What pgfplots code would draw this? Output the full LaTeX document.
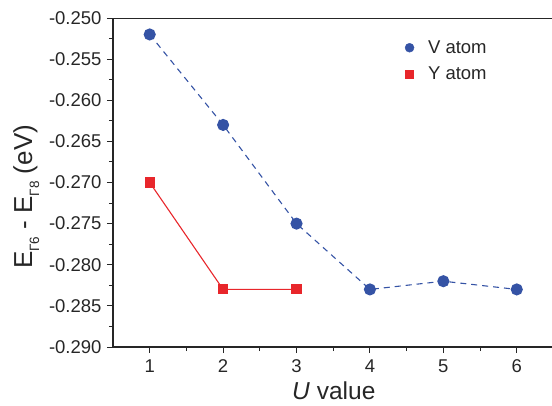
\documentclass[border=0pt]{standalone}
\usepackage{pgfplots}
\pgfplotsset{compat=1.18}
\usepackage{fontspec}
\setmainfont{Liberation Sans}
\definecolor{vblue}{HTML}{3553A5}
\definecolor{yred}{HTML}{E8262B}
\newcommand{\sub}[1]{\raisebox{-7pt}{\fontsize{13.5}{14}\selectfont #1}}
\begin{document}
\begin{tikzpicture}
\useasboundingbox (-113pt,-58pt) rectangle (439pt,347pt);
\begin{axis}[
  at={(0,0)}, anchor=south west,
  scale only axis, width=439pt, height=329pt,
  xmin=0.5, xmax=6.48, ymin=-0.290, ymax=-0.250,
  axis x line*=bottom, axis y line*=left,
  axis line style={line width=1.1pt, color=black!85, -},
  xtick={1,2,3,4,5,6},
  ytick={-0.290,-0.285,...,-0.249},
  minor x tick num=1, minor y tick num=1,
  tick align=outside,
  major tick length=6pt, minor tick length=4pt,
  tick style={line width=1pt, color=black!85},
  /pgf/number format/assume math mode=true,
  yticklabel={\pgfmathprintnumber[fixed,fixed zerofill,precision=3]{\tick}},
  scaled y ticks=false,
  tick label style={font=\fontsize{18.5}{20}\selectfont, color=black!85},
  xticklabel style={yshift=-3pt},
  yticklabel style={xshift=-2pt},
  xlabel={\textit{U} value},
  ylabel={E\sub{Γ6} - E\sub{Γ8} (eV)},
  every axis x label/.style={at={(axis description cs:0.503,-0.161)}, anchor=base, font=\fontsize{24.5}{28}\selectfont, color=black!85},
  every axis y label/.style={at={(axis description cs:-0.1845,0.456)}, anchor=base, rotate=90, font=\fontsize{26}{30}\selectfont, color=black!85},
  legend style={draw=none, fill=none, at={(axis description cs:0.658,0.944)}, anchor=north west,
    font=\fontsize{18.5}{20}\selectfont, row sep=8pt, text=black!85,
    /tikz/every odd column/.append style={column sep=12pt}},
  legend cell align=left,
]
\draw[line width=1.1pt, color=black!85] (rel axis cs:0,1) -- (rel axis cs:1,1);
\addplot[vblue, line width=1.1pt, dash pattern=on 6pt off 5pt, mark=*, mark size=5.5pt, mark options={solid}, forget plot]
  coordinates {(1,-0.252) (2,-0.263) (3,-0.275) (4,-0.283) (5,-0.282) (6,-0.283)};
\addplot[yred, line width=1.1pt, mark=square*, mark size=4.5pt, mark options={solid}, forget plot]
  coordinates {(1,-0.270) (2,-0.283) (3,-0.283)};
\addlegendimage{only marks, mark=*, color=vblue, mark size=4.5pt}
\addlegendentry{V atom}
\addlegendimage{only marks, mark=square*, color=yred, mark size=4pt}
\addlegendentry{Y atom}
\end{axis}
\end{tikzpicture}
\end{document}
